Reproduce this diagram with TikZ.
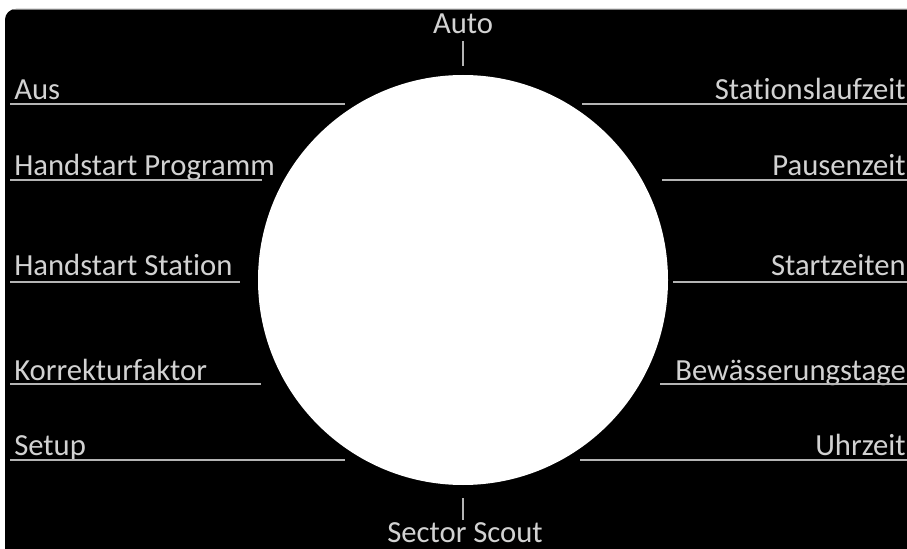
\documentclass[tikz,border=0pt]{standalone}
\usepackage{fontspec}
\setmainfont[Ligatures=NoCommon]{Carlito}
\usepackage{tikz}
\definecolor{txtgrey}{HTML}{D2D2D2}
\definecolor{rulegrey}{HTML}{B4B4B4}
\tikzset{
  lbl/.style={text=txtgrey, inner sep=0pt, font=\fontsize{23}{24}\selectfont},
  rule/.style={draw=rulegrey, line width=1.5pt}
}

\begin{document}
\begin{tikzpicture}[x=0.75pt, y=-0.75pt]
\useasboundingbox (0,0) rectangle (907,549);
% background
\fill[white] (0,0) rectangle (907,549);
\fill[black, rounded corners=8pt] (5,9) -- (5,560) -- (920,560) -- (920,9) -- cycle;
\draw[gray, line width=1pt] (12,9.5) -- (907,9.5);
\node[circle, fill=white, minimum size=307.5pt, inner sep=0pt] (dial) at (463,280) {};
% line ends
\coordinate (a1) at (10,104);
\coordinate (a2) at (345,104);
\coordinate (b1) at (10,180);
\coordinate (b2) at (262,180);
\coordinate (c1) at (10,282);
\coordinate (c2) at (240,282);
\coordinate (d1) at (10,384);
\coordinate (d2) at (261,384);
\coordinate (e1) at (10,460);
\coordinate (e2) at (345,460);
\coordinate (f1) at (582,104);
\coordinate (f2) at (907,104);
\coordinate (g1) at (662,180);
\coordinate (g2) at (907,180);
\coordinate (h1) at (673,282);
\coordinate (h2) at (907,282);
\coordinate (i1) at (660,384);
\coordinate (i2) at (907,384);
\coordinate (j1) at (580,460);
\coordinate (j2) at (907,460);
\coordinate (t1) at (463,41);
\coordinate (t2) at (463,66);
\coordinate (s1) at (463,498);
\coordinate (s2) at (463,520);
% labels
\node[lbl, anchor=base west] (aus) at (14,100) {Aus};
\node[lbl, anchor=base west] (hprog) at (14,176) {Handstart Programm};
\node[lbl, anchor=base west] (hstat) at (14,276) {Handstart Station};
\node[lbl, anchor=base west] (korr) at (14,380) {Korrekturfaktor};
\node[lbl, anchor=base west] (setup) at (14,455) {Setup};
\node[lbl, anchor=base east] (slauf) at (906,100) {Stationslaufzeit};
\node[lbl, anchor=base east] (pause) at (906,176) {Pausenzeit};
\node[lbl, anchor=base east] (start) at (906,276) {Startzeiten};
\node[lbl, anchor=base east] (bew) at (906,380) {Bewässerungstage};
\node[lbl, anchor=base east] (uhr) at (906,455) {Uhrzeit};
\node[lbl, anchor=base] (auto) at (463,34) {Auto};
\node[lbl, anchor=base] (scout) at (465,542) {Sector Scout};
% rules
\draw[rule] (a1) -- (a2);
\draw[rule] (b1) -- (b2);
\draw[rule] (c1) -- (c2);
\draw[rule] (d1) -- (d2);
\draw[rule] (e1) -- (e2);
\draw[rule] (f1) -- (f2);
\draw[rule] (g1) -- (g2);
\draw[rule] (h1) -- (h2);
\draw[rule] (i1) -- (i2);
\draw[rule] (j1) -- (j2);
\draw[rule] (t1) -- (t2);
\draw[rule] (s1) -- (s2);
\end{tikzpicture}
\end{document}
